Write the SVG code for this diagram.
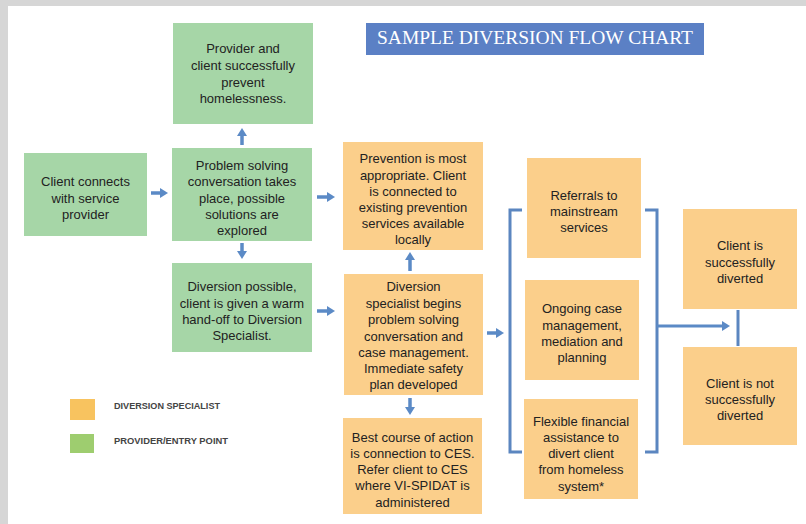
<svg xmlns="http://www.w3.org/2000/svg" width="806" height="524" viewBox="0 0 806 524">
<defs>
<marker id="ah" viewBox="0 0 8 10" refX="1" refY="5" markerWidth="8" markerHeight="10" markerUnits="userSpaceOnUse" orient="auto">
<path d="M0,0 L8,5 L0,10 z" fill="#5b8ac6"/>
</marker>
<style>
.g{fill:#a6d6a7}
.o{fill:#fbcf8b}
.t{font-family:"Liberation Sans","DejaVu Sans",sans-serif;font-size:13px;fill:#222;text-anchor:middle;dominant-baseline:central}
.a{stroke:#5b8ac6;stroke-width:3.5;fill:none;marker-end:url(#ah)}
.b{stroke:#5b86c0;stroke-width:3;fill:none}
.lg{font-family:"Liberation Sans","DejaVu Sans",sans-serif;font-size:8.5px;fill:#444;font-weight:bold;dominant-baseline:central}
</style>
</defs>
<rect x="0" y="0" width="806" height="524" fill="#d6d6d6"/>
<rect x="8" y="6" width="798" height="518" fill="#ffffff"/>

<g id="title">
<rect x="366" y="23" width="338" height="32" fill="#5b80c5"/>
<text x="535" y="44" font-family="Liberation Serif,serif" font-size="18" fill="#ffffff" text-anchor="middle" textLength="316" lengthAdjust="spacingAndGlyphs">SAMPLE DIVERSION FLOW CHART</text>
</g>

<g id="n_prevent">
<rect class="g" x="173" y="23" width="140" height="101"/>
<text class="t"><tspan x="243" y="48">Provider and</tspan><tspan x="243" y="65">client successfully</tspan><tspan x="243" y="82">prevent</tspan><tspan x="243" y="98">homelessness.</tspan></text>
</g>
<g id="n_client">
<rect class="g" x="24" y="153" width="123" height="83"/>
<text class="t"><tspan x="85.5" y="181">Client connects</tspan><tspan x="85.5" y="198">with service</tspan><tspan x="85.5" y="214">provider</tspan></text>
</g>
<g id="n_problem">
<rect class="g" x="172" y="148" width="140" height="93"/>
<text class="t"><tspan x="242" y="165">Problem solving</tspan><tspan x="242" y="181">conversation takes</tspan><tspan x="242" y="198">place, possible</tspan><tspan x="242" y="214">solutions are</tspan><tspan x="242" y="230">explored</tspan></text>
</g>
<g id="n_possible">
<rect class="g" x="172" y="263" width="140" height="89"/>
<text class="t"><tspan x="242" y="286">Diversion possible,</tspan><tspan x="242" y="303">client is given a warm</tspan><tspan x="242" y="319">hand-off to Diversion</tspan><tspan x="242" y="335">Specialist.</tspan></text>
</g>
<g id="n_prevention">
<rect class="o" x="343" y="142" width="140" height="108"/>
<text class="t"><tspan x="413" y="158">Prevention is most</tspan><tspan x="413" y="175">appropriate. Client</tspan><tspan x="413" y="191">is connected to</tspan><tspan x="413" y="207">existing prevention</tspan><tspan x="413" y="223">services available</tspan><tspan x="413" y="239">locally</tspan></text>
</g>
<g id="n_specialist">
<rect class="o" x="344" y="274" width="139" height="121"/>
<text class="t"><tspan x="413.5" y="286">Diversion</tspan><tspan x="413.5" y="303">specialist begins</tspan><tspan x="413.5" y="319">problem solving</tspan><tspan x="413.5" y="336">conversation and</tspan><tspan x="413.5" y="352">case management.</tspan><tspan x="413.5" y="368">Immediate safety</tspan><tspan x="413.5" y="384">plan developed</tspan></text>
</g>
<g id="n_ces">
<rect class="o" x="343" y="418" width="139" height="96"/>
<text class="t"><tspan x="412.5" y="437">Best course of action</tspan><tspan x="412.5" y="453">is connection to CES.</tspan><tspan x="412.5" y="469">Refer client to CES</tspan><tspan x="412.5" y="485">where VI-SPIDAT is</tspan><tspan x="412.5" y="502">administered</tspan></text>
</g>
<g id="n_referrals">
<rect class="o" x="527" y="158" width="114" height="100"/>
<text class="t"><tspan x="584" y="195">Referrals to</tspan><tspan x="584" y="211">mainstream</tspan><tspan x="584" y="227">services</tspan></text>
</g>
<g id="n_ongoing">
<rect class="o" x="525" y="280" width="114" height="100"/>
<text class="t"><tspan x="582" y="308">Ongoing case</tspan><tspan x="582" y="325">management,</tspan><tspan x="582" y="341">mediation and</tspan><tspan x="582" y="357">planning</tspan></text>
</g>
<g id="n_flexible">
<rect class="o" x="524" y="399" width="114" height="100"/>
<text class="t"><tspan x="581" y="421">Flexible financial</tspan><tspan x="581" y="437">assistance to</tspan><tspan x="581" y="453">divert client</tspan><tspan x="581" y="469">from homeless</tspan><tspan x="581" y="486">system*</tspan></text>
</g>
<g id="n_success">
<rect class="o" x="683" y="209" width="114" height="100"/>
<text class="t"><tspan x="740" y="245">Client is</tspan><tspan x="740" y="262">successfully</tspan><tspan x="740" y="278">diverted</tspan></text>
</g>
<g id="n_notsuccess">
<rect class="o" x="683" y="347" width="114" height="98"/>
<text class="t"><tspan x="740" y="383">Client is not</tspan><tspan x="740" y="399">successfully</tspan><tspan x="740" y="415">diverted</tspan></text>
</g>

<g id="legend">
<rect x="70" y="399" width="25" height="21" fill="#f8c35f"/>
<text class="lg" x="114" y="406" textLength="106" lengthAdjust="spacingAndGlyphs">DIVERSION SPECIALIST</text>
<rect x="70" y="434" width="24" height="19" fill="#9ecd6f"/>
<text class="lg" x="114" y="441" textLength="114" lengthAdjust="spacingAndGlyphs">PROVIDER/ENTRY POINT</text>
</g>

<g id="connectors">
<line class="a" x1="151" y1="193" x2="161" y2="193"/>
<line class="a" x1="317" y1="197" x2="328" y2="197"/>
<line class="a" x1="242" y1="145" x2="242" y2="135"/>
<line class="a" x1="242" y1="243" x2="242" y2="252"/>
<line class="a" x1="317" y1="311" x2="328" y2="311"/>
<line class="a" x1="410" y1="271" x2="410" y2="259"/>
<line class="a" x1="410" y1="398" x2="410" y2="408"/>
<line class="a" x1="487" y1="333" x2="497" y2="333"/>
<path class="b" d="M522,210 H510 V452 H522"/>
<path class="b" d="M645,210 H657 V452 H645"/>
<line class="a" x1="657" y1="326" x2="723" y2="326" style="stroke-width:3"/>
<line class="b" x1="738" y1="310" x2="738" y2="346"/>
</g>
</svg>
